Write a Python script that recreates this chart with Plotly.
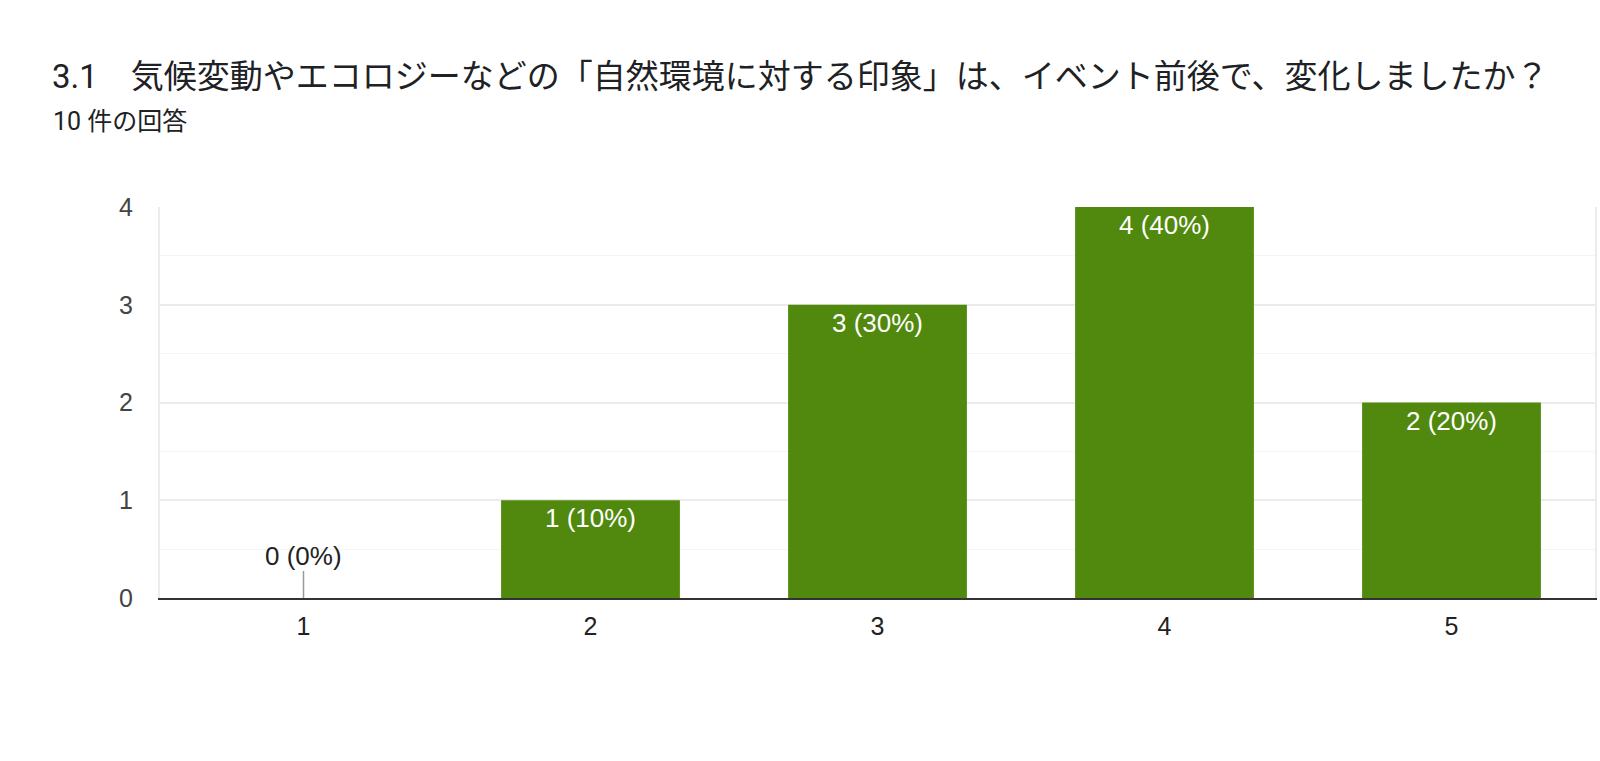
import plotly.graph_objects as go

categories = ["1", "2", "3", "4", "5"]
counts = [0, 1, 3, 4, 2]
total_responses = 10
title_text = "3.1　気候変動やエコロジーなどの「自然環境に対する印象」は、イベント前後で、変化しましたか？"
subtitle_text = "10 件の回答"
y_ticks = [0, 1, 2, 3, 4]

TITLE_FONT = "Roboto, 'Noto Sans CJK JP', sans-serif"
CHART_FONT = "'Liberation Sans', Arial, sans-serif"
GREEN = "#51890e"

labels = [f"{c} ({round(100 * c / total_responses)}%)" for c in counts]

W, H = 1600, 761
L, R, T, B = 160, 3, 207, 163

fig = go.Figure()
fig.add_trace(go.Bar(
    x=list(range(len(categories))),
    y=counts,
    marker=dict(color=GREEN, line=dict(width=0)),
    width=0.623,
    text=[l if c > 0 else "" for l, c in zip(labels, counts)],
    textposition="inside",
    insidetextanchor="end",
    textfont=dict(family=CHART_FONT, size=26, color="white"),
    textangle=0,
    cliponaxis=False,
    hoverinfo="skip",
))

# zero-value markers: short gray stub plus label above it
for i, (c, lab) in enumerate(zip(counts, labels)):
    if c == 0:
        fig.add_shape(type="line", xref="x", yref="y", x0=i, x1=i,
                      ysizemode="pixel", yanchor=0, y0=0, y1=27,
                      line=dict(color="#9a9a9a", width=1.5), layer="above")
        fig.add_annotation(x=i, y=0, xref="x", yref="y", text=lab,
                           showarrow=False, yanchor="bottom", yshift=25,
                           font=dict(family=CHART_FONT, size=26, color="#222222"))

fig.update_layout(
    width=W, height=H,
    margin=dict(l=L, r=R, t=T, b=B, pad=0),
    paper_bgcolor="white", plot_bgcolor="white",
    showlegend=False,
    font=dict(family=CHART_FONT, color="#444444"),
    title=dict(text=title_text, xref="container", yref="container",
               x=52 / W, y=1 - 76 / H, xanchor="left", yanchor="middle",
               pad=dict(l=0, r=0, t=0, b=0),
               font=dict(family=TITLE_FONT, size=33, color="#202124")),
    annotations=list(fig.layout.annotations) + [dict(
        text=subtitle_text, xref="paper", yref="paper",
        x=(52 - L) / (W - L - R), y=1 + (T - 122) / (H - T - B),
        xanchor="left", yanchor="middle", showarrow=False, xshift=-1,
        font=dict(family=TITLE_FONT, size=25, color="#202124"))],
)

fig.update_xaxes(
    range=[-0.5, len(categories) - 0.5],
    tickvals=list(range(len(categories))),
    ticktext=categories,
    showgrid=False,
    showline=True, linecolor="#333333", linewidth=2,
    ticks="", tickfont=dict(family=CHART_FONT, size=25, color="#222222"),
    ticklabelstandoff=5,
    zeroline=False,
)
fig.update_yaxes(
    range=[0, 4],
    tickvals=y_ticks,
    showgrid=True, gridcolor="#ebebeb", gridwidth=1.5,
    minor=dict(dtick=0.5, showgrid=True, gridcolor="#f4f4f4", gridwidth=1),
    showline=True, linecolor="#ebebeb", linewidth=2, mirror=True,
    zeroline=False,
    ticks="", tickfont=dict(family=CHART_FONT, size=25, color="#444444"),
    ticklabelstandoff=20,
)

fig.write_html(
    "out.html",
    config={"displayModeBar": False},
    post_script="document.body.style.margin='0px';document.body.style.overflow='hidden';",
)
